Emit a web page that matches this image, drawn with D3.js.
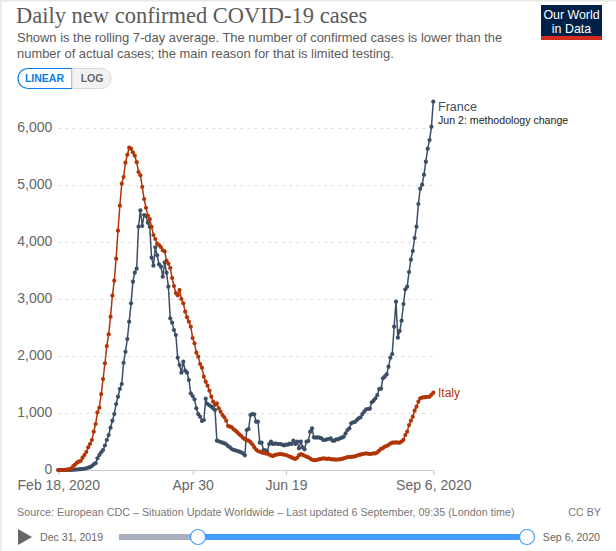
<!DOCTYPE html>
<html>
<head>
<meta charset="utf-8">
<script src="https://cdn.jsdelivr.net/npm/d3@7"></script>
<style>
html, body { margin: 0; padding: 0; background: #fff; }
svg { display: block; font-family: "Liberation Sans", Arial, sans-serif; }
.axis path, .axis line { fill: none; }
</style>
</head>
<body>
<div id="chart"></div>
<script>
var startDay = "2020-02-18";
var tickDays = ["2020-02-18", "2020-04-30", "2020-06-19", "2020-09-06"];
var tickLabels = ["Feb 18, 2020", "Apr 30", "Jun 19", "Sep 6, 2020"];
var yTicks = [0, 1000, 2000, 3000, 4000, 5000, 6000];

// one value per day from Feb 18
var france = [0,0,0,0,0,0,1,2,4,6,9,12,14,18,22,30,40,50,70,100,
  120,205,263,310,351,430,526,614,742,865,982,1158,1286,1421,1509,1882,2075,2298,2602,2924,
  3304,3461,3532,4269,4556,4281,4474,4456,4339,4269,3725,3585,3907,3766,3608,3567,3392,3643,3461,3216,
  2661,2585,2456,2368,1970,1842,1707,1900,1742,1707,1579,1345,1298,1240,1082,982,935,860,877,1251,
  1158,1135,1111,1082,1053,514,503,491,479,468,450,421,398,368,351,345,333,322,310,292,
  257,702,719,965,982,976,848,848,479,479,351,345,322,456,497,456,462,462,456,456,
  444,432,444,444,462,456,514,456,497,380,497,398,363,497,509,672,731,573,567,573,
  567,556,526,526,538,544,556,514,514,538,538,556,567,585,643,702,731,819,836,842,
  877,906,924,982,1023,1064,1070,1076,1187,1216,1257,1316,1421,1427,1608,1637,1678,1813,1970,2035,
  2514,2953,2322,2439,2620,2912,3170,3216,3474,3690,3842,4070,4269,4667,4935,5005,5181,5409,5637,5789,
  6023,6462];
var italy = [0,0,0,0,3,10,15,30,70,95,129,146,161,216,263,316,398,456,526,672,
  807,1012,1093,1333,1596,1871,2175,2380,2690,3058,3322,3707,4198,4637,5023,5140,5391,5530,5654,5637,
  5573,5515,5400,5228,5170,4965,4754,4600,4463,4400,4265,4123,4053,3970,3947,3912,3854,3836,3672,3620,
  3544,3368,3228,3105,3064,3158,3000,2924,2778,2678,2602,2514,2316,2222,2058,1988,1860,1795,1637,1550,
  1479,1391,1286,1198,1140,1170,1082,1023,965,924,865,772,760,749,714,690,660,626,600,565,
  540,525,514,490,450,400,360,333,320,310,300,292,285,270,255,245,260,270,275,280,
  275,270,263,250,235,220,205,193,215,260,280,265,250,235,222,200,180,172,175,180,
  190,195,205,200,195,200,190,185,185,180,185,187,195,205,215,225,228,230,233,240,
  250,265,270,280,285,290,285,280,285,290,292,310,340,370,385,410,421,440,465,479,
  479,485,480,479,500,530,614,672,789,865,935,1040,1111,1198,1257,1270,1275,1280,1285,1287,
  1320,1357];

var width = 616, height = 551;
var franceColor = "#3c4e66", italyColor = "#b13507";
var textColor = "#5b5b5b";

var parse = d3.utcParse("%Y-%m-%d");
var first = parse(startDay);
function dayOf(i) { return d3.utcDay.offset(first, i); }

var x = d3.scaleUtc().domain([parse(tickDays[0]), parse(tickDays[3])]).range([58.3, 433.3]);
var y = d3.scaleLinear().domain([0, 6000]).range([470, 128]);

var svg = d3.select("#chart").append("svg").attr("width", width).attr("height", height);

// page frame
svg.append("rect").attr("width", width).attr("height", 1.5).attr("fill", "#e8e8e8");
svg.append("rect").attr("width", 1.5).attr("height", height).attr("fill", "#e8e8e8");

// header
svg.append("text").attr("x", 16).attr("y", 23).attr("fill", textColor)
  .style("font-family", "'Liberation Serif', Georgia, serif").style("font-size", "22.5px")
  .text("Daily new confirmed COVID-19 cases");
var subtitle = ["Shown is the rolling 7-day average. The number of confirmed cases is lower than the",
  "number of actual cases; the main reason for that is limited testing."];
svg.selectAll(".sub").data(subtitle).enter().append("text").attr("class", "sub")
  .attr("x", 17).attr("y", function (d, i) { return 42 + i * 16; })
  .attr("fill", textColor).style("font-size", "12.95px").text(function (d) { return d; });

// logo
svg.append("rect").attr("x", 541).attr("y", 5).attr("width", 61).attr("height", 31).attr("fill", "#002147");
svg.append("rect").attr("x", 541).attr("y", 36).attr("width", 61).attr("height", 4).attr("fill", "#d42b21");
["Our World", "in Data"].forEach(function (t, i) {
  svg.append("text").attr("x", 571.5).attr("y", 19 + i * 14).attr("text-anchor", "middle")
    .attr("fill", "#fff").style("font-size", "12.4px").text(t);
});

// linear / log toggle
svg.append("path").attr("d", "M72,68.5H28a10,10 0 0 0 0,20H72Z").attr("fill", "#fff").attr("stroke", "#0a7ee8").attr("stroke-width", 1.2);
svg.append("path").attr("d", "M72,68.5H101a10,10 0 0 1 0,20H72Z").attr("fill", "#f2f2f2").attr("stroke", "#d8d8d8");
svg.append("text").attr("x", 44.5).attr("y", 82).attr("text-anchor", "middle").attr("fill", "#0a7ee8")
  .style("font-size", "10.5px").style("font-weight", "bold").text("LINEAR");
svg.append("text").attr("x", 92).attr("y", 82).attr("text-anchor", "middle").attr("fill", "#666")
  .style("font-size", "10.5px").style("font-weight", "bold").text("LOG");

// axes
var yAxis = d3.axisLeft(y).tickValues(yTicks).tickSize(0).tickPadding(6).tickFormat(d3.format(","));
var yG = svg.append("g").attr("class", "axis").attr("transform", "translate(58.3,0)").call(yAxis);
yG.select(".domain").remove();
yG.selectAll("text").attr("fill", "#666").attr("y", -1).style("font-size", "14px").style("font-family", "'Liberation Sans', Arial, sans-serif");
yG.selectAll(".tick").filter(function (d) { return d > 0; }).append("line")
  .attr("x1", 0).attr("x2", 375).attr("stroke", "#ddd").attr("stroke-dasharray", "3,4");

var xAxis = d3.axisBottom(x).tickValues(tickDays.map(parse)).tickSize(5).tickPadding(5)
  .tickFormat(function (d, i) { return tickLabels[i]; });
var xG = svg.append("g").attr("class", "axis").attr("transform", "translate(0,470)").call(xAxis);
xG.select(".domain").attr("stroke", "#ccc");
xG.selectAll("line").attr("stroke", "#ccc");
xG.selectAll("text").attr("fill", "#666").style("font-size", "14px").style("font-family", "'Liberation Sans', Arial, sans-serif");

// series
var line = d3.line().x(function (d, i) { return x(dayOf(i)); }).y(function (d) { return y(d); });
[{ v: france, c: franceColor }, { v: italy, c: italyColor }].forEach(function (s) {
  svg.append("path").datum(s.v).attr("d", line).attr("fill", "none").attr("stroke", s.c).attr("stroke-width", 1.5);
  svg.append("g").selectAll("circle").data(s.v).enter().append("circle")
    .attr("cx", function (d, i) { return x(dayOf(i)); })
    .attr("cy", function (d) { return y(d); })
    .attr("r", 2.1).attr("fill", s.c);
});

// end labels
svg.append("text").attr("x", 438).attr("y", 110.5).attr("fill", franceColor).style("font-size", "12.5px").text("France");
svg.append("text").attr("x", 438).attr("y", 123.5).attr("fill", "#222").style("font-size", "10.6px").text("Jun 2: methodology change");
svg.append("text").attr("x", 438).attr("y", 397).attr("fill", italyColor).style("font-size", "12px").text("Italy");

// footer
svg.append("text").attr("x", 17).attr("y", 516).attr("fill", "#777").style("font-size", "10.75px")
  .text("Source: European CDC – Situation Update Worldwide – Last updated 6 September, 09:35 (London time)");
svg.append("text").attr("x", 601).attr("y", 516).attr("text-anchor", "end").attr("fill", "#777").style("font-size", "10.75px").text("CC BY");

// timeline
svg.append("path").attr("d", "M18,529L32,537L18,545Z").attr("fill", "#666");
svg.append("text").attr("x", 40).attr("y", 541).attr("fill", "#666").style("font-size", "10.6px").text("Dec 31, 2019");
svg.append("text").attr("x", 600).attr("y", 541).attr("text-anchor", "end").attr("fill", "#666").style("font-size", "10.6px").text("Sep 6, 2020");
svg.append("rect").attr("x", 119).attr("y", 534).attr("width", 80).attr("height", 6).attr("fill", "#a7afbd");
svg.append("rect").attr("x", 198).attr("y", 534).attr("width", 329).attr("height", 6).attr("fill", "#429eff");
[198, 527].forEach(function (cx) {
  svg.append("circle").attr("cx", cx).attr("cy", 537).attr("r", 7.5).attr("fill", "#fff").attr("stroke", "#429eff").attr("stroke-width", 1.2);
});
</script>
</body>
</html>
